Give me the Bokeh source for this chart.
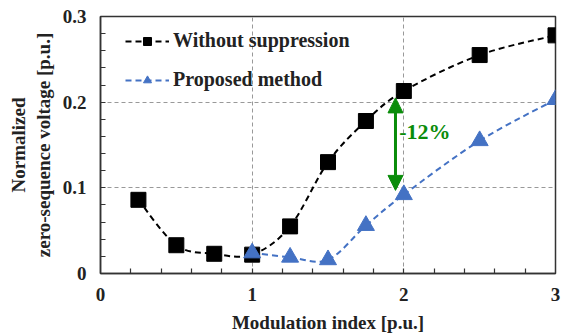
from bokeh.plotting import figure
from bokeh.models import (Range1d, FixedTicker, Legend, LegendItem, Arrow, NormalHead,
                          Label, ColumnDataSource)
from bokeh.embed import file_html
from bokeh.resources import INLINE

# data
x_without = [0.25, 0.5, 0.75, 1.0, 1.25, 1.5, 1.75, 2.0, 2.5, 3.0]
y_without = [0.086, 0.033, 0.023, 0.022, 0.055, 0.130, 0.178, 0.213, 0.255, 0.278]
x_proposed = [1.0, 1.25, 1.5, 1.75, 2.0, 2.5, 3.0]
y_proposed = [0.024, 0.019, 0.016, 0.056, 0.092, 0.155, 0.203]
x_ticks = [0, 1, 2, 3]
y_ticks = [0, 0.1, 0.2, 0.3]
y_tick_labels = {0: "0", 0.1: "0.1", 0.2: "0.2", 0.3: "0.3"}
arrow_x = 1.945
arrow_y = [0.097, 0.205]
note_text = "-12%"
note_pos = [1.97, 0.166]

FONT = "Liberation Serif"
BLUE = "#4472C4"
GREEN = "#0A8C0A"


def smooth_segments(xs, ys):
    """Bezier control points for a smoothed line through the data (Excel-like)."""
    n = len(xs)
    d = dict(x0=[], y0=[], x1=[], y1=[], cx0=[], cy0=[], cx1=[], cy1=[])
    for i in range(n - 1):
        xa, ya = xs[max(i - 1, 0)], ys[max(i - 1, 0)]
        xb, yb = xs[i], ys[i]
        xc, yc = xs[i + 1], ys[i + 1]
        xd, yd = xs[min(i + 2, n - 1)], ys[min(i + 2, n - 1)]
        d["x0"].append(xb); d["y0"].append(yb)
        d["x1"].append(xc); d["y1"].append(yc)
        d["cx0"].append(xb + (xc - xa) / 6); d["cy0"].append(yb + (yc - ya) / 6)
        d["cx1"].append(xc - (xd - xb) / 6); d["cy1"].append(yc - (yd - yb) / 6)
    return ColumnDataSource(d)


p = figure(frame_width=455, frame_height=257, output_backend="svg", toolbar_location=None,
           x_range=Range1d(0, 3), y_range=Range1d(0, 0.3),
           min_border_left=100, min_border_right=20, min_border_top=16, min_border_bottom=61)
p.background_fill_color = "white"
p.border_fill_color = "white"
p.outline_line_color = "#333333"
p.outline_line_width = 1.5

# grids
p.xgrid.ticker = FixedTicker(ticks=[1, 2])
p.ygrid.ticker = FixedTicker(ticks=[0.1, 0.2])
for g in (p.xgrid, p.ygrid):
    g.grid_line_color = "#999999"
    g.grid_line_dash = "4 3"
    g.grid_line_width = 1

x_minor = [i * 0.2 for i in range(1, 15)]
y_minor = [i * 0.02 for i in range(1, 15)]
p.xaxis.ticker = FixedTicker(ticks=x_ticks, minor_ticks=x_minor)
p.yaxis.ticker = FixedTicker(ticks=y_ticks, minor_ticks=y_minor)
p.yaxis.major_label_overrides = y_tick_labels

for ax in (p.xaxis, p.yaxis):
    ax.axis_line_color = "#333333"
    ax.axis_line_width = 1.5
    ax.major_tick_in = 0
    ax.major_tick_out = 0
    ax.minor_tick_in = 5
    ax.minor_tick_out = 0
    ax.minor_tick_line_color = "#333333"
    ax.minor_tick_line_width = 1.2
    ax.major_label_text_font = FONT
    ax.major_label_text_font_style = "bold"
    ax.major_label_text_font_size = "19px"
    ax.major_label_text_color = "#222222"
    ax.axis_label_text_font = FONT
    ax.axis_label_text_font_style = "bold"
    ax.axis_label_text_font_size = "19px"
    ax.axis_label_text_color = "#222222"

p.xaxis.major_label_standoff = 14
p.yaxis.major_label_standoff = 14
p.xaxis.axis_label = "Modulation index [p.u.]"
p.xaxis.axis_label_standoff = 8
p.yaxis.axis_label = "Normalized\nzero-sequence voltage [p.u.]"
p.yaxis.axis_label_standoff = 6

src1 = ColumnDataSource(dict(x=x_without, y=y_without))
src2 = ColumnDataSource(dict(x=x_proposed, y=y_proposed))

l1 = p.bezier(x0="x0", y0="y0", x1="x1", y1="y1", cx0="cx0", cy0="cy0", cx1="cx1", cy1="cy1",
              source=smooth_segments(x_without, y_without),
              line_color="black", line_width=2, line_dash="6 4")
m1 = p.scatter("x", "y", source=src1, marker="square", size=15, fill_color="black", line_color="black")
l2 = p.bezier(x0="x0", y0="y0", x1="x1", y1="y1", cx0="cx0", cy0="cy0", cx1="cx1", cy1="cy1",
              source=smooth_segments(x_proposed, y_proposed),
              line_color=BLUE, line_width=2, line_dash="6 4")
m2 = p.scatter("x", "y", source=src2, marker="triangle", size=17, fill_color=BLUE, line_color=BLUE)

arrow = Arrow(x_start=arrow_x, y_start=arrow_y[0], x_end=arrow_x, y_end=arrow_y[1],
              line_color=GREEN, line_width=3,
              start=NormalHead(size=15, fill_color=GREEN, line_color=GREEN),
              end=NormalHead(size=15, fill_color=GREEN, line_color=GREEN))
p.add_layout(arrow)

p.add_layout(Label(x=note_pos[0], y=note_pos[1], text=note_text, text_color=GREEN,
                   text_font=FONT, text_font_style="bold", text_font_size="22px",
                   text_baseline="middle", text_align="left"))

legend = Legend(items=[LegendItem(label="Without suppression", renderers=[l1, m1]),
                       LegendItem(label="Proposed method", renderers=[l2, m2])],
                location=(25, 182))
legend.background_fill_alpha = 0
legend.border_line_alpha = 0
legend.label_text_font = FONT
legend.label_text_font_style = "bold"
legend.label_text_font_size = "20px"
legend.label_text_color = "#222222"
legend.glyph_width = 44
legend.glyph_height = 20
legend.label_height = 20
legend.spacing = 16
legend.label_standoff = 4
legend.margin = 0
legend.padding = 0
p.add_layout(legend)

open("out.html", "w").write(file_html(p, INLINE))
